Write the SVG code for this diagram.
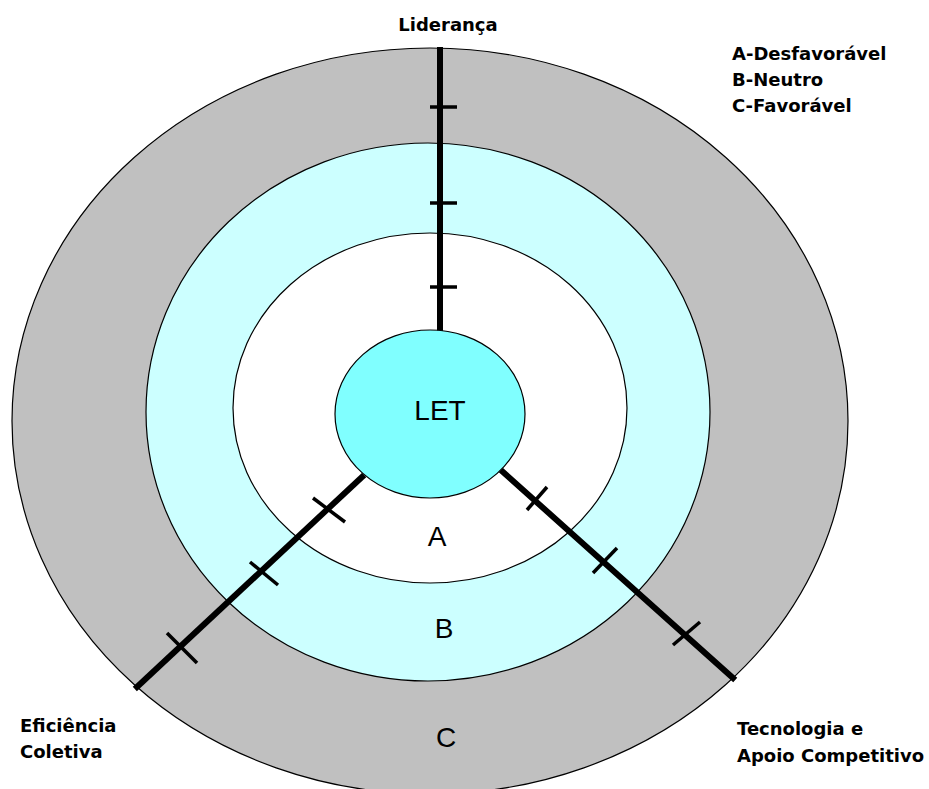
<svg xmlns="http://www.w3.org/2000/svg" width="929" height="789" viewBox="0 0 929 789">
<style>
.ring{stroke:#000;stroke-width:1.2}
.axis{stroke:#000;stroke-width:6;stroke-linecap:square;fill:none}
.tick{stroke:#000;stroke-width:3.5;stroke-linecap:butt}
.lbl{font-family:"DejaVu Sans",Verdana,sans-serif;font-weight:bold;font-size:18px;fill:#000}
.big{font-family:"Liberation Sans",Arial,sans-serif;font-size:28px;fill:#000;text-anchor:middle}
</style>
<rect width="929" height="789" fill="#fff"/>
<g id="ring-C"><ellipse class="ring" cx="430" cy="421" rx="418" ry="373" fill="#C0C0C0"/></g>
<g id="ring-B"><ellipse class="ring" cx="428" cy="412" rx="282" ry="269" fill="#CCFFFF"/></g>
<g id="ring-A"><ellipse class="ring" cx="430" cy="408" rx="197" ry="175" fill="#FFFFFF"/></g>
<g id="connectors">
<line class="axis" x1="440" y1="50" x2="440" y2="332"/>
<line class="tick" x1="430" y1="107" x2="457" y2="107"/>
<line class="tick" x1="430" y1="203" x2="457" y2="203"/>
<line class="tick" x1="430" y1="287" x2="457" y2="287"/>
<line class="axis" x1="362" y1="477" x2="137" y2="687"/>
<line class="tick" x1="313" y1="498" x2="345" y2="522"/>
<line class="tick" x1="250" y1="562" x2="278" y2="585"/>
<line class="tick" x1="167" y1="633" x2="197" y2="663"/>
<line class="axis" x1="503" y1="472" x2="733" y2="678"/>
<line class="tick" x1="527" y1="510" x2="547" y2="487"/>
<line class="tick" x1="593" y1="573" x2="617" y2="548"/>
<line class="tick" x1="673" y1="645" x2="700" y2="622"/>
</g>
<g id="LET"><ellipse class="ring" cx="430" cy="414" rx="95" ry="84" fill="#80FFFF"/>
<text class="big" x="440" y="420">LET</text></g>
<g id="labels">
<text class="big" x="437" y="546">A</text>
<text class="big" x="444" y="638">B</text>
<text class="big" x="446" y="747">C</text>
<text class="lbl" x="448" y="31" text-anchor="middle">Liderança</text>
<text class="lbl" x="732" y="60">A-Desfavorável</text>
<text class="lbl" x="732" y="86">B-Neutro</text>
<text class="lbl" x="732" y="112">C-Favorável</text>
<text class="lbl" x="20" y="732">Eficiência</text>
<text class="lbl" x="20" y="758">Coletiva</text>
<text class="lbl" x="737" y="735">Tecnologia e</text>
<text class="lbl" x="737" y="762">Apoio Competitivo</text>
</g>
</svg>
